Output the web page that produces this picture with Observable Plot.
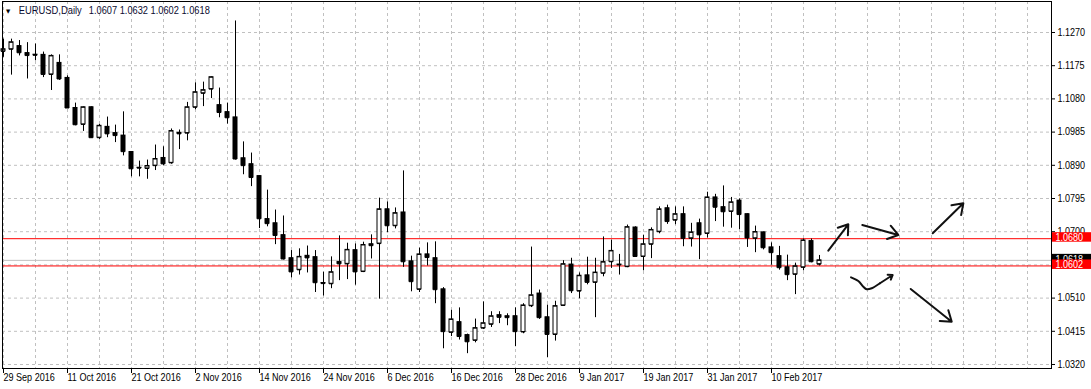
<!DOCTYPE html>
<html><head><meta charset="utf-8">
<script src="https://cdn.jsdelivr.net/npm/d3@7"></script>
<script src="https://cdn.jsdelivr.net/npm/@observablehq/plot@0.6"></script>
<style>
html,body{margin:0;padding:0;background:#fff;overflow:hidden;}
#chart{width:1091px;height:389px;}
#chart svg{display:block;}
</style>
</head><body><div id="chart"></div>
<script>
// ---- data (EURUSD Daily, 29 Sep 2016 .. 20 Feb 2017) ----
const symbolName = "EURUSD,Daily";
const lastQuote = "1.0607 1.0632 1.0602 1.0618";

const openP = [1.1216,1.1222,1.1231,1.1211,1.12065,1.1206,1.1150,1.1183,1.1140,1.1054,
1.1007,1.1056,1.0969,1.1000,1.0982,1.0975,1.0928,1.0883,1.0881,1.0889,
1.0911,1.0897,1.0983,1.0982,1.1056,1.1096,1.1108,1.1062,1.1042,1.1027,
1.0910,1.0893,1.0859,1.0736,1.0724,1.0690,1.0624,1.0591,1.0631,1.0627,
1.05532,1.0551,1.0613,1.0608,1.0647,1.0586,1.0664,1.0666,1.0764,1.0717,
1.0755,1.0615,1.0535,1.0635,1.0624,1.0535,1.0412,1.0441,1.0404,1.0389,
1.0424,1.0435,1.0461,1.0458,1.0458,1.0413,1.0488,1.0523,1.0455,1.0406,
1.0489,1.0606,1.0530,1.0575,1.0555,1.0581,1.0614,1.0606,1.0600,1.0712,
1.0629,1.0664,1.0700,1.0767,1.0733,1.0750,1.0681,1.0724,1.0695,1.0798,
1.0770,1.0758,1.0789,1.0750,1.0681,1.0698,1.0655,1.0630,1.0598,1.0578,
1.0598,1.0673,1.0607];
const highP = [1.1251,1.1251,1.1247,1.1241,1.1237,1.1214,1.1206,1.1206,1.1146,1.1068,
1.1057,1.1057,1.1007,1.1028,1.1005,1.1043,1.0929,1.0902,1.0905,1.0948,
1.0943,1.0994,1.0991,1.1070,1.1126,1.1128,1.1143,1.1111,1.1068,1.1303,
1.0957,1.0925,1.0859,1.0819,1.0762,1.0745,1.0646,1.0651,1.0659,1.0646,
1.0584,1.0628,1.0688,1.0667,1.0665,1.0670,1.0691,1.0796,1.0785,1.0768,
1.0874,1.0630,1.0653,1.0668,1.0671,1.0540,1.0475,1.0482,1.0407,1.0450,
1.0499,1.0471,1.0471,1.0465,1.0482,1.0494,1.0656,1.0533,1.0490,1.0501,
1.0617,1.0624,1.0582,1.0627,1.0624,1.0685,1.0676,1.0635,1.0719,1.0714,
1.0690,1.0711,1.0771,1.0776,1.0771,1.0771,1.0724,1.0736,1.0813,1.0807,
1.0831,1.0798,1.0794,1.0751,1.0716,1.0699,1.0668,1.0658,1.0633,1.0610,
1.0679,1.0679,1.0632];
const lowP = [1.1199,1.1148,1.1203,1.1137,1.1189,1.1141,1.1104,1.1133,1.1053,1.1003,
1.0987,1.0968,1.0964,1.0969,1.0955,1.0917,1.0857,1.0857,1.0850,1.0875,
1.0889,1.0893,1.0935,1.0960,1.1049,1.1058,1.1081,1.1026,1.1008,1.0905,
1.0863,1.0829,1.0709,1.0714,1.0663,1.0619,1.0568,1.0576,1.0582,1.0526,
1.0516,1.0537,1.0560,1.0563,1.0547,1.0583,1.0622,1.0507,1.0697,1.0708,
1.0598,1.0528,1.0526,1.0602,1.0494,1.0365,1.0400,1.0390,1.0351,1.0382,
1.0420,1.0426,1.0437,1.0431,1.0371,1.0408,1.0483,1.0449,1.0340,1.0387,
1.0487,1.0523,1.0508,1.0548,1.0454,1.0571,1.0595,1.0576,1.0597,1.0628,
1.0588,1.0623,1.0694,1.0721,1.0720,1.0657,1.0656,1.0620,1.0682,1.0729,
1.0713,1.0710,1.0706,1.0655,1.0640,1.0648,1.0604,1.0590,1.0560,1.0520,
1.0588,1.0611,1.0602];
const closeP = [1.1222,1.1242,1.1212,1.1204,1.12048,1.1150,1.1203,1.1137,1.1054,1.1006,
1.1056,1.0969,1.1003,1.0980,1.0975,1.0929,1.0880,1.0882,1.0888,1.0908,
1.0894,1.0988,1.0980,1.1056,1.1099,1.1105,1.1142,1.1041,1.1026,1.0908,
1.0889,1.0855,1.0737,1.0723,1.0689,1.0622,1.0585,1.0628,1.0625,1.0554,
1.05515,1.0584,1.0608,1.0648,1.0585,1.0662,1.0660,1.0764,1.0717,1.0753,
1.0614,1.0557,1.0635,1.0626,1.0534,1.0414,1.0449,1.0400,1.0385,1.0424,
1.0438,1.0458,1.0455,1.0454,1.0414,1.0489,1.0518,1.0454,1.0406,1.0487,
1.0607,1.0531,1.0574,1.0555,1.0583,1.0613,1.0645,1.0605,1.0713,1.0629,
1.0664,1.0705,1.0764,1.0729,1.0750,1.0681,1.0698,1.0691,1.0798,1.0770,
1.0757,1.0784,1.0749,1.0682,1.0699,1.0654,1.0640,1.0597,1.0577,1.0601,
1.0675,1.0614,1.0618];

// bar positions of the time-axis labels and their texts
const xTickIndex = [0,8,16,24,32,40,48,56,64,72,80,88,96];
const xTickLabels = ["29 Sep 2016","11 Oct 2016","21 Oct 2016","2 Nov 2016","14 Nov 2016",
  "24 Nov 2016","6 Dec 2016","16 Dec 2016","28 Dec 2016","9 Jan 2017","19 Jan 2017",
  "31 Jan 2017","10 Feb 2017"];
// vertical grid every 4 bars
const xGridIndex = [0,4,8,12,16,20,24,28,32,36,40,44,48,52,56,60,64,68,72,76,80,84,88,92,96,100,104,108,112,116,120,124,128];
// price axis (grid/tick levels, and the labels that are not hidden under the price tags)
const yTicks = [1.0320,1.0415,1.0510,1.0605,1.0700,1.0795,1.0890,1.0985,1.1080,1.1175,1.1270];
const yLabels = [1.0320,1.0415,1.0510,1.0700,1.0795,1.0890,1.0985,1.1080,1.1175,1.1270];
const levelLines = [1.0680, 1.0602];
const bidLine = [1.0618];
// price tags on the right axis (drawn in this order)
const tagPrices = [1.0618, 1.0680, 1.0602];
const tagColors = ["#000000", "#ff0000", "#ff0000"];

// hand-drawn arrows (bar index, price)
const arrowX1 = [103.1, 107.35, 116.15, 113.4, 109.56];
const arrowY1 = [1.06456, 1.07192, 1.06954, 1.05361, 1.05524];
const arrowX2 = [105.6, 111.85, 119.98, 118.53, 111.15];
const arrowY2 = [1.07212, 1.06906, 1.07813, 1.04425, 1.05761];
// wavy tail of the lower-middle arrow
const curveX = [105.94, 106.85, 107.48, 107.9, 108.53, 109.56];
const curveY = [1.05695, 1.05589, 1.05426, 1.05352, 1.05381, 1.05524];

// ---- build tables ----
const xDomain = [-0.125, 131];
const yDomain = [1.0308554, 1.135871];
const W = 1091, H = 389, ML = 2, MR = 40, MT = 1, MB = 21;
const unitsPerPx = (yDomain[1] - yDomain[0]) / (H - MT - MB);
const barsPerPx = (xDomain[1] - xDomain[0]) / (W - ML - MR);

const candles = openP.map((o, i) => ({i, open: o, high: highP[i], low: lowP[i], close: closeP[i]}));
const bulls = candles.filter(d => d.close >= d.open);
const bears = candles.filter(d => d.close < d.open);
const arrows = arrowX1.map((x, k) => ({x1: x, y1: arrowY1[k], x2: arrowX2[k], y2: arrowY2[k]}));
const curve = curveX.map((x, k) => ({x, y: curveY[k]}));
const tags = tagPrices.map((p, k) => ({p, color: tagColors[k]}));

const FONT = "'Liberation Sans',Arial,sans-serif";
const halfBody = 0.25;

const tagMarks = tags.flatMap(t => [
  Plot.rect([t], {x1: xDomain[1] + barsPerPx, x2: xDomain[1] + 40 * barsPerPx,
    y1: d => d.p - 3.5 * unitsPerPx, y2: d => d.p + 6 * unitsPerPx, fill: t.color}),
  Plot.text([t], {x: xDomain[1], y: "p", text: d => d.p.toFixed(4), dx: 4, dy: -1,
    textAnchor: "start", fill: "white", fontSize: 10.5})
]);

const chart = Plot.plot({
  width: W, height: H,
  marginLeft: ML, marginRight: MR, marginTop: MT, marginBottom: MB,
  style: {fontFamily: FONT, fontSize: "10.5px", background: "white", color: "black"},
  x: {domain: xDomain, axis: null},
  y: {domain: yDomain, axis: null},
  marks: [
    Plot.ruleY(yTicks, {stroke: "#c0c0c0", strokeDasharray: "3,3"}),
    Plot.ruleX(xGridIndex, {stroke: "#c0c0c0", strokeDasharray: "3,3"}),
    Plot.ruleY(bidLine, {stroke: "#c0c0c0"}),
    Plot.ruleY(levelLines, {stroke: "#ff0000"}),
    Plot.ruleX(candles, {x: "i", y1: "low", y2: "high", stroke: "black"}),
    Plot.rect(bulls, {x1: d => d.i - halfBody, x2: d => d.i + halfBody, y1: "open", y2: "close", fill: "white", stroke: "black"}),
    Plot.rect(bears, {x1: d => d.i - halfBody, x2: d => d.i + halfBody, y1: "open", y2: "close", fill: "black", stroke: "black"}),
    Plot.ruleY(candles, {y: "open", x1: d => d.i - halfBody, x2: d => d.i + halfBody, stroke: "black"}),
    Plot.ruleY(candles, {y: "close", x1: d => d.i - halfBody, x2: d => d.i + halfBody, stroke: "black"}),
    Plot.frame({stroke: "black"}),
    // time axis
    Plot.ruleX(xTickIndex, {x: d => d, stroke: "black", insetTop: H - MT - MB, insetBottom: -5}),
    Plot.text(xTickIndex, {x: d => d, text: (d, k) => xTickLabels[k], frameAnchor: "bottom", dy: 12, textAnchor: "start", fontSize: 10.5, fill: "black"}),
    // price axis
    Plot.ruleY(yTicks, {y: d => d, stroke: "black", insetLeft: W - ML - MR, insetRight: -4}),
    Plot.text(yLabels, {y: d => d, text: d => d.toFixed(4), frameAnchor: "right", dx: 6, textAnchor: "start", fontSize: 10.5, fill: "black"}),
    // annotations
    Plot.line(curve, {x: "x", y: "y", curve: "catmull-rom", stroke: "#111", strokeWidth: 2}),
    Plot.arrow(arrows, {x1: "x1", y1: "y1", x2: "x2", y2: "y2", stroke: "#111", strokeWidth: 2, headLength: 9, headAngle: 70}),
    // title
    Plot.text(["\u25BC"], {text: d => d, frameAnchor: "top-left", dx: 5.5, dy: 9.5, textAnchor: "middle", lineAnchor: "middle", fontSize: 5.5, fontFamily: "DejaVu Sans", fill: "black"}),
    Plot.text([symbolName], {text: d => d, frameAnchor: "top-left", dx: 16.3, dy: 9, textAnchor: "start", lineAnchor: "middle", fontSize: 10.5, fill: "#0a0a30"}),
    Plot.text([lastQuote], {text: d => d, frameAnchor: "top-left", dx: 86.3, dy: 9, textAnchor: "start", lineAnchor: "middle", fontSize: 10.5, fill: "#0a0a30"}),
    ...tagMarks
  ]
});
document.getElementById("chart").appendChild(chart);

// narrow the glyphs to the compact MetaTrader face (keeps the text as text)
const fixedWidths = {[symbolName]: 63, [lastQuote]: 121};
chart.querySelectorAll("text").forEach(t => {
  const s = t.textContent;
  if (s === "\u25BC") return;
  const w = t.getComputedTextLength();
  const target = fixedWidths[s] !== undefined ? fixedWidths[s] : w * 0.86;
  if (w > 0) {
    t.setAttribute("textLength", target.toFixed(2));
    t.setAttribute("lengthAdjust", "spacingAndGlyphs");
  }
});
</script>
</body></html>
